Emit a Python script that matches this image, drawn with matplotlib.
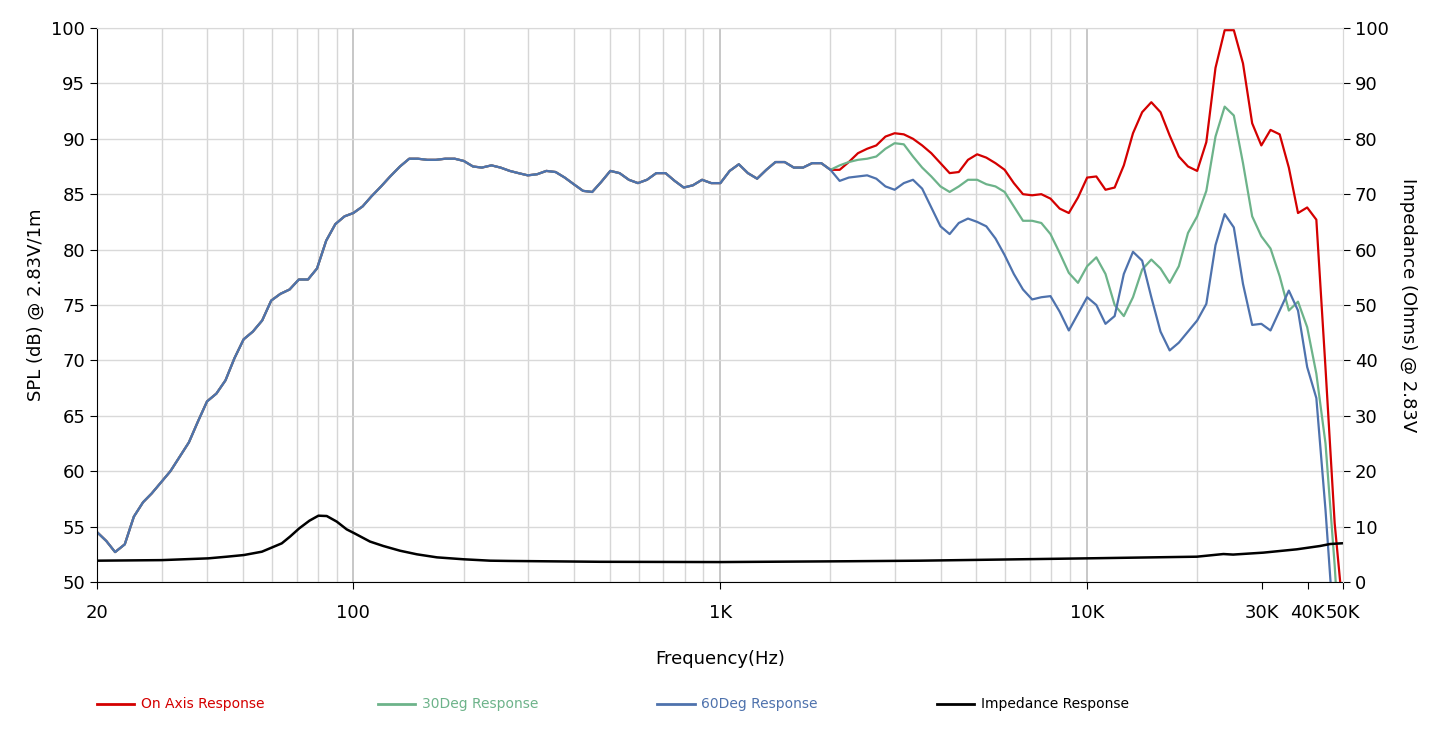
import matplotlib
matplotlib.use("Agg")
import matplotlib.pyplot as plt
from matplotlib.ticker import FixedLocator, FixedFormatter, LogLocator, NullFormatter
from matplotlib.lines import Line2D

# frequency points (Hz), 1/40 decade steps
freq = [
    20, 21.2, 22.4, 23.8, 25.2, 26.7, 28.2, 29.9, 31.7, 33.6,
    35.6, 37.7, 39.9, 42.3, 44.8, 47.4, 50.2, 53.2, 56.4, 59.7,
    63.2, 67.0, 71.0, 75.2, 79.6, 84.3, 89.3, 94.6, 100, 106,
    112, 119, 126, 134, 142, 150, 159, 168, 178, 189,
    200, 212, 224, 238, 252, 267, 282, 299, 317, 336,
    356, 377, 399, 423, 448, 474, 502, 532, 564, 597,
    632, 670, 710, 752, 796, 843, 893, 946, 1002, 1062,
    1125, 1191, 1262, 1337, 1416, 1500, 1589, 1683, 1783, 1888,
    2000, 2119, 2244, 2377, 2518, 2667, 2825, 2992, 3170, 3358,
    3557, 3767, 3991, 4227, 4477, 4743, 5024, 5321, 5637, 5971,
    6325, 6699, 7096, 7517, 7962, 8434, 8934, 9463, 10024, 10618,
    11247, 11913, 12619, 13367, 14159, 14998, 15887, 16828, 17825, 18881,
    20000, 21185, 22440, 23770, 25179, 26670, 28251, 29925, 31698, 33576,
    35566, 37674, 39905, 42270, 44774, 47427, 50238,
]

# SPL below ~2 kHz, identical for all three angles
spl_shared = [
    54.5, 53.7, 52.7, 53.4, 55.9, 57.2, 58.0, 59.0, 60.0, 61.3,
    62.6, 64.5, 66.3, 67.0, 68.2, 70.2, 71.9, 72.6, 73.6, 75.4,
    76.0, 76.4, 77.3, 77.3, 78.3, 80.8, 82.3, 83.0, 83.3, 83.9,
    84.8, 85.7, 86.6, 87.5, 88.2, 88.2, 88.1, 88.1, 88.2, 88.2,
    88.0, 87.5, 87.4, 87.6, 87.4, 87.1, 86.9, 86.7, 86.8, 87.1,
    87.0, 86.5, 85.9, 85.3, 85.2, 86.1, 87.1, 86.9, 86.3, 86.0,
    86.3, 86.9, 86.9, 86.2, 85.6, 85.8, 86.3, 86.0, 86.0, 87.1,
    87.7, 86.9, 86.4, 87.2, 87.9, 87.9, 87.4, 87.4, 87.8, 87.8,
    87.2,
]

# SPL above ~2 kHz
on_axis_hf = [
    87.2, 87.9, 88.7, 89.1, 89.4, 90.2, 90.5, 90.4, 90.0, 89.4,
    88.7, 87.8, 86.9, 87.0, 88.1, 88.6, 88.3, 87.8, 87.2, 86.0,
    85.0, 84.9, 85.0, 84.6, 83.7, 83.3, 84.7, 86.5, 86.6, 85.4,
    85.6, 87.6, 90.5, 92.4, 93.3, 92.4, 90.3, 88.4, 87.5, 87.1,
    89.7, 96.4, 99.8, 99.8, 96.8, 91.4, 89.4, 90.8, 90.4, 87.4,
    83.3, 83.8, 82.7, 69.3, 55.3, 46.5,
]
deg30_hf = [
    87.6, 87.9, 88.1, 88.2, 88.4, 89.1, 89.6, 89.5, 88.4, 87.4,
    86.6, 85.7, 85.2, 85.7, 86.3, 86.3, 85.9, 85.7, 85.2, 83.9,
    82.6, 82.6, 82.4, 81.4, 79.7, 77.9, 77.0, 78.5, 79.3, 77.8,
    75.0, 74.0, 75.7, 78.2, 79.1, 78.3, 77.0, 78.5, 81.5, 83.0,
    85.3, 90.2, 92.9, 92.1, 87.8, 83.0, 81.2, 80.1, 77.6, 74.5,
    75.3, 73.0, 68.8, 62.5, 51.5, 38.0,
]
deg60_hf = [
    86.2, 86.5, 86.6, 86.7, 86.4, 85.7, 85.4, 86.0, 86.3, 85.5,
    83.8, 82.1, 81.4, 82.4, 82.8, 82.5, 82.1, 81.0, 79.5, 77.8,
    76.4, 75.5, 75.7, 75.8, 74.4, 72.7, 74.2, 75.7, 75.0, 73.3,
    74.0, 77.8, 79.8, 79.0, 75.7, 72.6, 70.9, 71.6, 72.6, 73.6,
    75.1, 80.4, 83.2, 82.0, 76.9, 73.2, 73.3, 72.7, 74.5, 76.3,
    74.5, 69.4, 66.6, 56.5, 44.7, 40.0,
]

on_axis = spl_shared + on_axis_hf
deg30 = spl_shared + deg30_hf
deg60 = spl_shared + deg60_hf

# impedance curve (Ohms)
imp_freq = [20, 30, 40.2, 45.2, 50.3, 56.3, 63.8, 67.2, 71.2, 75.9,
            80.3, 84.6, 90.1, 95.9, 100.6, 111, 120.7, 134, 149, 169,
            200, 236, 267, 470, 1000, 2260, 3510, 10000, 19960, 23580,
            25060, 30300, 37380, 43270, 46080, 50000]
imp_ohm = [3.85, 3.95, 4.27, 4.57, 4.87, 5.47, 6.98, 8.2, 9.69, 11.07,
           11.97, 11.91, 10.9, 9.5, 8.8, 7.3, 6.5, 5.65, 5.0, 4.45,
           4.1, 3.85, 3.8, 3.65, 3.6, 3.75, 3.85, 4.27, 4.57, 5.05,
           4.95, 5.3, 5.9, 6.5, 6.86, 7.0]

x_ticks = [20, 100, 1000, 10000, 30000, 40000, 50000]
x_labels = ["20", "100", "1K", "10K", "30K", "40K", "50K"]
decades = [100, 1000, 10000]

series = [
    ("On Axis Response", on_axis, "#d40000"),
    ("30Deg Response", deg30, "#6db38a"),
    ("60Deg Response", deg60, "#4e72ad"),
]

plt.rcParams["font.family"] = ["DejaVu Sans"]

fig = plt.figure(figsize=(14.4, 7.4), dpi=100)
ax = fig.add_axes([0.0674, 0.2135, 0.8653, 0.7487])

# grid
ax.set_xscale("log")
ax.set_xlim(20, 50000)
ax.set_ylim(50, 100)
ax.xaxis.set_major_locator(FixedLocator(x_ticks))
ax.xaxis.set_major_formatter(FixedFormatter(x_labels))
ax.xaxis.set_minor_locator(LogLocator(base=10, subs=range(1, 10), numticks=20))
ax.xaxis.set_minor_formatter(NullFormatter())
ax.set_yticks(range(50, 101, 5))
ax.grid(True, which="minor", axis="x", color="#d6d6d6", linewidth=1.0)
ax.grid(True, which="major", axis="y", color="#d9d9d9", linewidth=1.0)
for d in decades:
    ax.axvline(d, color="#bdbdbd", linewidth=1.2, zorder=0.5)
ax.set_axisbelow(True)

for label, vals, color in series:
    ax.plot(freq, vals, color=color, linewidth=1.6, label=label)

ax.tick_params(axis="both", which="major", direction="out", length=5,
               labelsize=13, colors="black")
ax.tick_params(axis="x", which="minor", length=0)
ax.tick_params(axis="x", pad=11)
ax.spines["top"].set_color("#d9d9d9")
ax.spines["right"].set_color("#d9d9d9")

ax.set_xlabel("Frequency(Hz)", fontsize=13, labelpad=20)
ax.set_ylabel("SPL (dB) @ 2.83V/1m", fontsize=13, labelpad=5)

# impedance on the right axis
ax2 = ax.twinx()
ax2.set_ylim(0, 100)
ax2.set_yticks(range(0, 101, 10))
ax2.plot(imp_freq, imp_ohm, color="black", linewidth=1.8)
ax2.tick_params(axis="y", direction="out", length=5, labelsize=13)
ax2.spines["top"].set_visible(False)
ax2.spines["left"].set_visible(False)
ax2.spines["bottom"].set_visible(False)
ax2.spines["right"].set_color("#d9d9d9")
ax2.set_ylabel("Impedance (Ohms) @ 2.83V", fontsize=13, rotation=270, labelpad=20)

# legend row under the chart
legend_items = [
    ("On Axis Response", "#d40000", 0.0674),
    ("30Deg Response", "#6db38a", 0.2625),
    ("60Deg Response", "#4e72ad", 0.4563),
    ("Impedance Response", "black", 0.6507),
]
for text, color, x0 in legend_items:
    fig.add_artist(Line2D([x0, x0 + 0.026], [0.0490, 0.0490],
                          color=color, linewidth=2.0, transform=fig.transFigure))
    fig.text(x0 + 0.0306, 0.0490, text, color=color, fontsize=10,
             va="center", ha="left")

fig.savefig("out.png", dpi=100)
